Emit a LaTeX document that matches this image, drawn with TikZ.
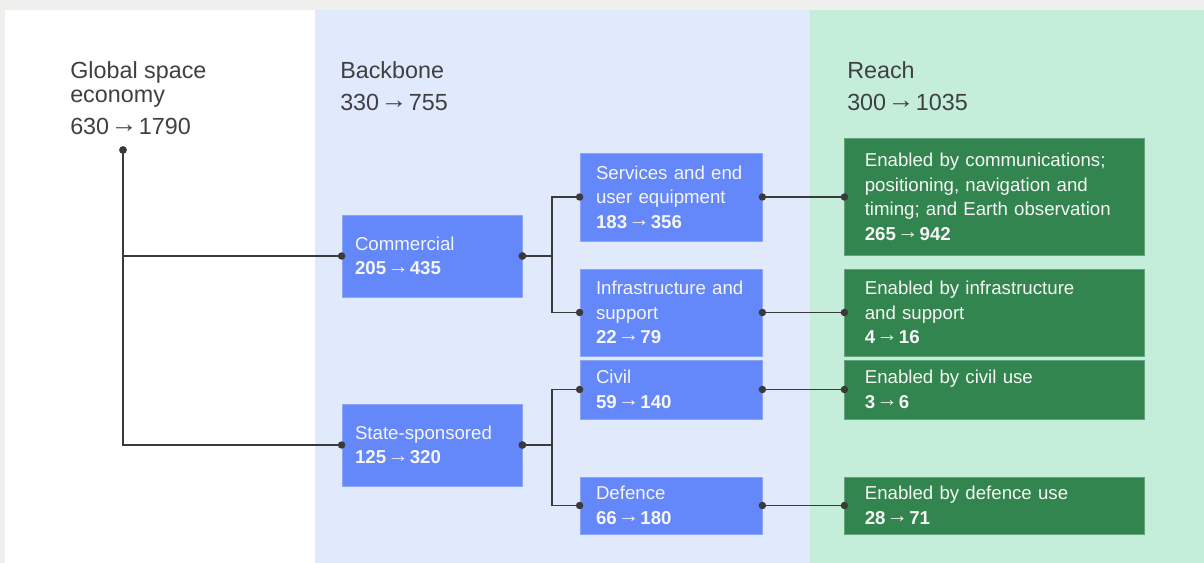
\documentclass[tikz,border=0pt]{standalone}
\usepackage{fontspec}
\setmainfont{Liberation Sans}
\usepackage{graphicx}
\usetikzlibrary{arrows.meta,positioning}
\definecolor{Frame}{HTML}{EFEFED}
\definecolor{Blank}{HTML}{FFFFFF}
\definecolor{Haze}{HTML}{E0EAFC}
\definecolor{Mint}{HTML}{C4EEDA}
\definecolor{Cobalt}{HTML}{6487FA}
\definecolor{Forest}{HTML}{32854F}
\definecolor{Ink}{HTML}{3A3A3A}
\definecolor{Label}{HTML}{404040}
\definecolor{Snow}{HTML}{F6F6F6}
\newlength\px
\setlength\px{0.75pt}
\newcommand\gto{{\mdseries\kern0.06em\raisebox{0.1em}{\scalebox{1.15}[1.1]{→}}\kern0.06em}}
\tikzset{
  head/.style={
    anchor=base west, inner sep=0pt, align=left, text=Label,
    font=\fontsize{17.5pt}{18.4pt}\selectfont
  },
  part/.style={
    rectangle, fill=Cobalt, draw=Cobalt!75!white, line width=0.6pt,
    text=Snow, align=left, inner xsep=13\px, inner ysep=0pt,
    minimum width=180\px, text width=154\px,
    font=\fontsize{14pt}{18.4pt}\selectfont
  },
  sub/.style={part, inner xsep=16\px, minimum width=182\px, text width=150\px},
  reach/.style={
    part, fill=Forest, draw=Forest!75!white, inner xsep=20\px,
    minimum width=300\px, text width=260\px
  },
  link/.style={
    draw=Ink, line width=1.4pt,
    {Circle[length=5.5pt]}-{Circle[length=5.5pt]},
    shorten <=-2.75pt, shorten >=-2.75pt
  }
}

\begin{document}
\begin{tikzpicture}[x=0.75pt,y=-0.75pt,node distance=82\px]
    % panels
    \fill[Frame] (0,0) rectangle (1204,563);
    \fill[Blank] (5,10) rectangle (315,563);
    \fill[Haze] (315,10) rectangle (810,563);
    \fill[Mint] (810,10) rectangle (1204,563);
    % headings
    \node[head] (g) at (70,135) {Global space\\economy\\[5.6pt]630\gto1790};
    \node[head] (bk) at (340,111) {Backbone\\[5.6pt]330\gto755};
    \node[head] (rc) at (847,111) {Reach\\[5.6pt]300\gto1035};
    \coordinate (g0) at (123,150);
    % backbone
    \node[part,minimum height=82\px] (c) at (432,256) {Commercial\\\textbf{205\gto435}};
    \node[part,minimum height=82\px] (s) at (432,445) {State-sponsored\\\textbf{125\gto320}};
    \node[sub,minimum height=88\px] (sv) at (671,197) {Services and end\\user equipment\\\textbf{183\gto356}};
    \node[sub,minimum height=87\px] (inf) at (671,312.5) {Infrastructure and\\support\\\textbf{22\gto79}};
    \node[sub,minimum height=59\px] (cv) at (671,389.5) {Civil\\\textbf{59\gto140}};
    \node[sub,minimum height=57\px] (df) at (671,505.5) {Defence\\\textbf{66\gto180}};
    % reach
    \node[reach,minimum height=117\px,right=of sv] (r1) {Enabled by communications;\\positioning, navigation and\\timing; and Earth observation\\\textbf{265\gto942}};
    \node[reach,minimum height=87\px,right=of inf] (r2) {Enabled by infrastructure\\and support\\\textbf{4\gto16}};
    \node[reach,minimum height=59\px,right=of cv] (r3) {Enabled by civil use\\\textbf{3\gto6}};
    \node[reach,minimum height=57\px,right=of df] (r4) {Enabled by defence use\\\textbf{28\gto71}};
    % links
    \draw[link] (g0) |- (c.west);
    \draw[link] (g0) |- (s.west);
    \draw[link] (c.east) -- ++(30,0) |- (sv.west);
    \draw[link] (c.east) -- ++(30,0) |- (inf.west);
    \draw[link] (s.east) -- ++(30,0) |- (cv.west);
    \draw[link] (s.east) -- ++(30,0) |- (df.west);
    \draw[link] (sv) -- (r1);
    \draw[link] (inf) -- (r2);
    \draw[link] (cv) -- (r3);
    \draw[link] (df) -- (r4);
\end{tikzpicture}
\end{document}
